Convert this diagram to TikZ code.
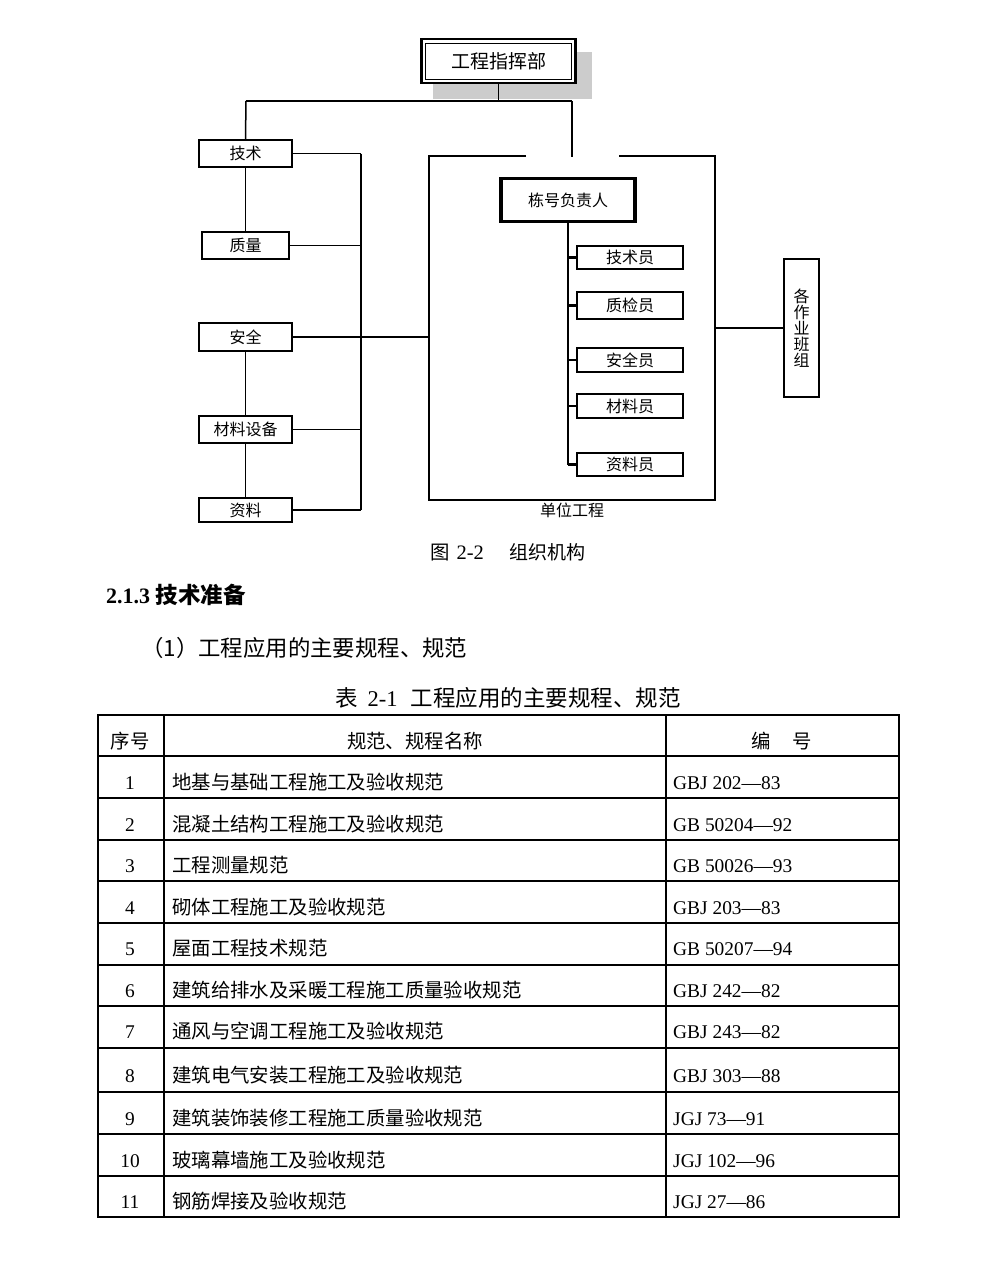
\documentclass[tikz,border=0pt]{standalone}
\usepackage{fontspec}
\setmainfont{Liberation Serif}
\newfontfamily\cjk{Noto Sans CJK SC}
\usetikzlibrary{calc}
\begin{document}
\begin{tikzpicture}[x=1pt,y=-1pt,
  box/.style={draw, line width=1.9, fill=white, inner sep=0, font=\cjk\fontsize{16}{16}\selectfont},
  conn/.style={line width=1.5},
  thinconn/.style={line width=1.2},
  heavy/.style={line width=2.4},
  txt/.style={inner sep=0, anchor=base west},
  cjkcell/.style={txt, font=\cjk\fontsize{19.4}{20}\selectfont},
  latcell/.style={txt, font=\rmfamily\fontsize{19.4}{20}\selectfont},
  numcell/.style={inner sep=0, anchor=base, font=\rmfamily\fontsize{19.4}{20}\selectfont},
  tabline/.style={line width=1.5},
  tabframe/.style={line width=2},
]
\useasboundingbox (0,0) rectangle (994,1264);

% ---------- top box with shadow ----------
\fill[black!20] (433,52) rectangle (592,99);
\node[box, line width=2.6, minimum width=154, minimum height=44, font=\cjk\fontsize{19}{19}\selectfont] (zh) at (498.5,61) {工程指挥部};
\node[draw, line width=0.9, minimum width=146, minimum height=36, inner sep=0] (zhin) at (zh.center) {};

% ---------- left column ----------
\node[box, minimum width=93, minimum height=27] (js) at (245.5,153.5) {技术};
\node[box, minimum width=87, minimum height=27] (zl) at (245.5,245.5) {质量};
\node[box, minimum width=93, minimum height=28] (aq) at (245.5,337) {安全};
\node[box, minimum width=93, minimum height=27] (cl) at (245.5,429.5) {材料设备};
\node[box, minimum width=93, minimum height=24] (zlz) at (245.5,510) {资料};

% ---------- unit project ----------
\node[box, line width=3.4, minimum width=134, minimum height=43] (dh) at (568,200) {栋号负责人};
\node[box, minimum width=106, minimum height=23] (jsy) at (630,257.5) {技术员};
\node[box, minimum width=106, minimum height=27] (zjy) at (630,305.5) {质检员};
\node[box, minimum width=106, minimum height=24] (aqy) at (630,360) {安全员};
\node[box, minimum width=106, minimum height=24] (cly) at (630,406) {材料员};
\node[box, minimum width=106, minimum height=23] (zly) at (630,464.5) {资料员};
\node[inner sep=0, font=\cjk\fontsize{16}{16}\selectfont] (dwlbl) at (572,510) {单位工程};

\node[box, minimum width=35, minimum height=138, align=center, font=\cjk\fontsize{16}{16}\selectfont] (bz) at (801.5,328) {各\\作\\业\\班\\组};

% ---------- coordinates ----------
\coordinate (t0) at (498.5,101);
\coordinate (tl) at (246,101);
\coordinate (tr) at (572,101);
\coordinate (tb) at (572,157);
\coordinate (bus1) at (361,153.5);
\coordinate (bus2) at (361,510);
\coordinate (ul) at (429,337);
\coordinate (ur) at (715,328);
\coordinate (vb) at (568,464.5);

% ---------- connectors ----------
\draw[conn] (zh.south) -- (t0);
\draw[conn] (tl) -- (tr);
\draw[conn] (tl) -- (js.north);
\draw[heavy] (tr) -- (tb);

\draw[thinconn] (js.south) -- (zl.north);
\draw[thinconn] (aq.south) -- (cl.north);
\draw[thinconn] (cl.south) -- (zlz.north);

\draw[line width=2] (bus1) -- (bus2);
\draw[conn] (js.east) -- (js.east -| bus1);
\draw[conn] (zl.east) -- (zl.east -| bus1);
\draw[conn] (cl.east) -- (cl.east -| bus1);
\draw[conn] (zlz.east) -- (zlz.east -| bus1);
\draw[heavy] (aq.east) -- (ul);

% unit project frame with opening at top
\draw[heavy] (526,156) -- (429,156) -- (429,500) -- (715,500) -- (715,156) -- (619,156);

\draw[heavy] (dh.south) -- (vb);
\draw[heavy] (jsy.west -| dh.south) -- (jsy.west);
\draw[heavy] (zjy.west -| dh.south) -- (zjy.west);
\draw[conn] (aqy.west -| dh.south) -- (aqy.west);
\draw[heavy] (cly.west -| dh.south) -- (cly.west);
\draw[heavy] (zly.west -| dh.south) -- (zly.west);

\draw[conn] (ur) -- (bz.west);

% ---------- caption and headings ----------
\node[txt] (cap) at (430,559) {{\cjk\fontsize{19.4}{20}\selectfont 图}\hspace{7pt}{\fontsize{20.5}{20}\selectfont 2-2}\hspace{26pt}{\cjk\fontsize{19}{20}\selectfont 组织机构}};
\node[txt] (sec) at (106,603) {{\bfseries\fontsize{22}{22}\selectfont 2.1.3 }{\cjk\bfseries\fontsize{22.5}{22}\selectfont 技术准备}};
\node[txt] (sub) at (141,656.5) {\cjk\fontsize{22.4}{22}\selectfont （1）工程应用的主要规程、规范};
\node[txt] (tcap) at (335,706.5) {{\cjk\fontsize{22.5}{22}\selectfont 表}\hspace{10pt}{\fontsize{22.5}{22}\selectfont 2-1}\hspace{13pt}{\cjk\fontsize{22.5}{22}\selectfont 工程应用的主要规程、规范}};

% ---------- table ----------
\foreach \yy in {756,798,840,881,923,965,1006,1048,1092,1134,1176}
  \draw[tabline] (98,\yy) -- (899,\yy);
\draw[tabline] (164,715) -- (164,1217);
\draw[tabline] (666,715) -- (666,1217);
\draw[tabframe] (98,715) rectangle (899,1217);

\node[inner sep=0, anchor=base, font=\cjk\fontsize{19.4}{20}\selectfont] (h1) at (130,748.4) {序号};
\node[inner sep=0, anchor=base, font=\cjk\fontsize{19.4}{20}\selectfont] (h2) at (415,748.4) {规范、规程名称};
\node[inner sep=0, anchor=base, font=\cjk\fontsize{19.4}{20}\selectfont] (h3) at (782,748.4) {编\hspace{1.1em}号};

\foreach \n/\yc/\name/\code in {
  1/782/地基与基础工程施工及验收规范/GBJ 202—83,
  2/824/混凝土结构工程施工及验收规范/GB 50204—92,
  3/865/工程测量规范/GB 50026—93,
  4/907/砌体工程施工及验收规范/GBJ 203—83,
  5/948/屋面工程技术规范/GB 50207—94,
  6/990/建筑给排水及采暖工程施工质量验收规范/GBJ 242—82,
  7/1031/通风与空调工程施工及验收规范/GBJ 243—82,
  8/1075/建筑电气安装工程施工及验收规范/GBJ 303—88,
  9/1118/建筑装饰装修工程施工质量验收规范/JGJ 73—91,
  10/1160/玻璃幕墙施工及验收规范/JGJ 102—96,
  11/1201/钢筋焊接及验收规范/JGJ 27—86}
{
  \node[numcell] (n\n) at (130,\yc+7.2) {\n};
  \node[cjkcell] (m\n) at (172,\yc+7.4) {\name};
  \node[latcell] (c\n) at (673,\yc+7.2) {\code};
}
\end{tikzpicture}
\end{document}
